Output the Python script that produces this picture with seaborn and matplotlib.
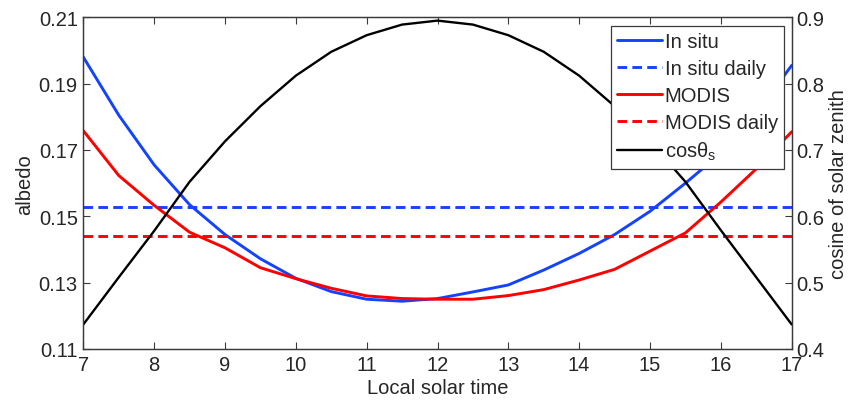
import matplotlib
matplotlib.use("Agg")
import matplotlib.pyplot as plt
import numpy as np
import pandas as pd
import seaborn as sns

# Local solar time (hours)
hours = [7, 7.5, 8, 8.5, 9, 9.5, 10, 10.5, 11, 11.5, 12,
         12.5, 13, 13.5, 14, 14.5, 15, 15.5, 16, 16.5, 17]

# Instantaneous albedo
insitu = [0.1980, 0.1805, 0.1655, 0.1535, 0.1445, 0.1372, 0.1313, 0.1273,
          0.1250, 0.1244, 0.1252, 0.1272, 0.1293, 0.1338, 0.1388, 0.1445,
          0.1515, 0.1600, 0.1690, 0.1810, 0.1955]
modis = [0.1758, 0.1623, 0.1533, 0.1452, 0.1405, 0.1345, 0.1312, 0.1283,
         0.1260, 0.1252, 0.1250, 0.1250, 0.1261, 0.1279, 0.1308, 0.1340,
         0.1395, 0.1450, 0.1543, 0.1643, 0.1755]

# Daily mean albedo
insitu_daily = 0.1528
modis_daily = 0.1440

# Cosine of solar zenith angle
cos_sza = [0.437, 0.508, 0.578, 0.652, 0.713, 0.766, 0.812, 0.848, 0.873,
           0.889, 0.895, 0.889, 0.873, 0.848, 0.812, 0.766, 0.713, 0.652,
           0.579, 0.508, 0.437]

left_ticks = [0.11, 0.13, 0.15, 0.17, 0.19, 0.21]
right_ticks = [0.4, 0.5, 0.6, 0.7, 0.8, 0.9]
x_ticks = list(range(7, 18))

sns.set_style("white")
plt.rcParams["font.family"] = ["Liberation Sans", "DejaVu Sans"]
plt.rcParams["mathtext.fontset"] = "custom"
plt.rcParams["mathtext.rm"] = "Liberation Sans"
plt.rcParams["mathtext.it"] = "Liberation Sans"
plt.rcParams["mathtext.default"] = "regular"

FS = 14.5
BLUE = "#1443ff"
RED = "#ff0000"
AXC = "#3a3a3a"

df = pd.DataFrame({
    "hour": hours,
    "insitu": insitu,
    "modis": modis,
    "insitu_daily": [insitu_daily] * len(hours),
    "modis_daily": [modis_daily] * len(hours),
    "cos": cos_sza,
})

fig = plt.figure(figsize=(8.52, 4.02), dpi=100)
ax = fig.add_axes([0.0978, 0.1294, 0.8314, 0.8251])
ax2 = ax.twinx()

dash = (3.3, 1.8)
sns.lineplot(data=df, x="hour", y="insitu", ax=ax, color=BLUE, lw=2.1,
             label="In situ")
sns.lineplot(data=df, x="hour", y="insitu_daily", ax=ax, color=BLUE, lw=2.1,
             label="In situ daily")
sns.lineplot(data=df, x="hour", y="modis", ax=ax, color=RED, lw=2.1,
             label="MODIS")
sns.lineplot(data=df, x="hour", y="modis_daily", ax=ax, color=RED, lw=2.1,
             label="MODIS daily")
sns.lineplot(data=df, x="hour", y="cos", ax=ax2, color="black", lw=1.7,
             label=r"cos$\theta_s$")

for ln in (ax.lines[1], ax.lines[3]):
    ln.set_dashes(dash)

ax.set_xlim(7, 17)
ax.set_ylim(0.11, 0.21)
ax2.set_ylim(0.4, 0.9)
ax.set_xticks(x_ticks)
ax.set_xticklabels([str(t) for t in x_ticks])
ax.set_yticks(left_ticks)
ax.set_yticklabels([f"{t:.2f}" for t in left_ticks])
ax2.set_yticks(right_ticks)
ax2.set_yticklabels([f"{t:.1f}" for t in right_ticks])

ax.set_xlabel("Local solar time", fontsize=FS, labelpad=3)
ax.set_ylabel("albedo", fontsize=FS, labelpad=3)
ax2.set_ylabel("cosine of solar zenith", fontsize=FS, labelpad=4)

ax.tick_params(axis="x", which="both", direction="in", top=True, bottom=True,
               length=5, width=0.8, color=AXC, labelsize=FS, pad=4)
ax.tick_params(axis="y", direction="in", left=True, right=False, length=5,
               width=0.8, color=AXC, labelsize=FS, pad=4)
ax2.tick_params(axis="y", direction="in", right=True, left=False, length=5,
                width=0.8, color=AXC, labelsize=FS, pad=3)

for a in (ax, ax2):
    for sp in a.spines.values():
        sp.set_visible(True)
        sp.set_color(AXC)
        sp.set_linewidth(0.9)

h1, l1 = ax.get_legend_handles_labels()
h2, l2 = ax2.get_legend_handles_labels()
if ax2.get_legend() is not None:
    ax2.get_legend().remove()
if ax.get_legend() is not None:
    ax.get_legend().remove()
leg = ax2.legend(h1 + h2, l1 + l2, loc="upper right",
                 bbox_to_anchor=(0.989, 0.974), fontsize=FS, frameon=True,
                 fancybox=False, edgecolor=AXC, framealpha=1,
                 handlelength=2.2, handletextpad=0.15, borderpad=0.3,
                 labelspacing=0.4, borderaxespad=0)
leg.get_frame().set_linewidth(0.9)

fig.savefig("out.png", dpi=100)
